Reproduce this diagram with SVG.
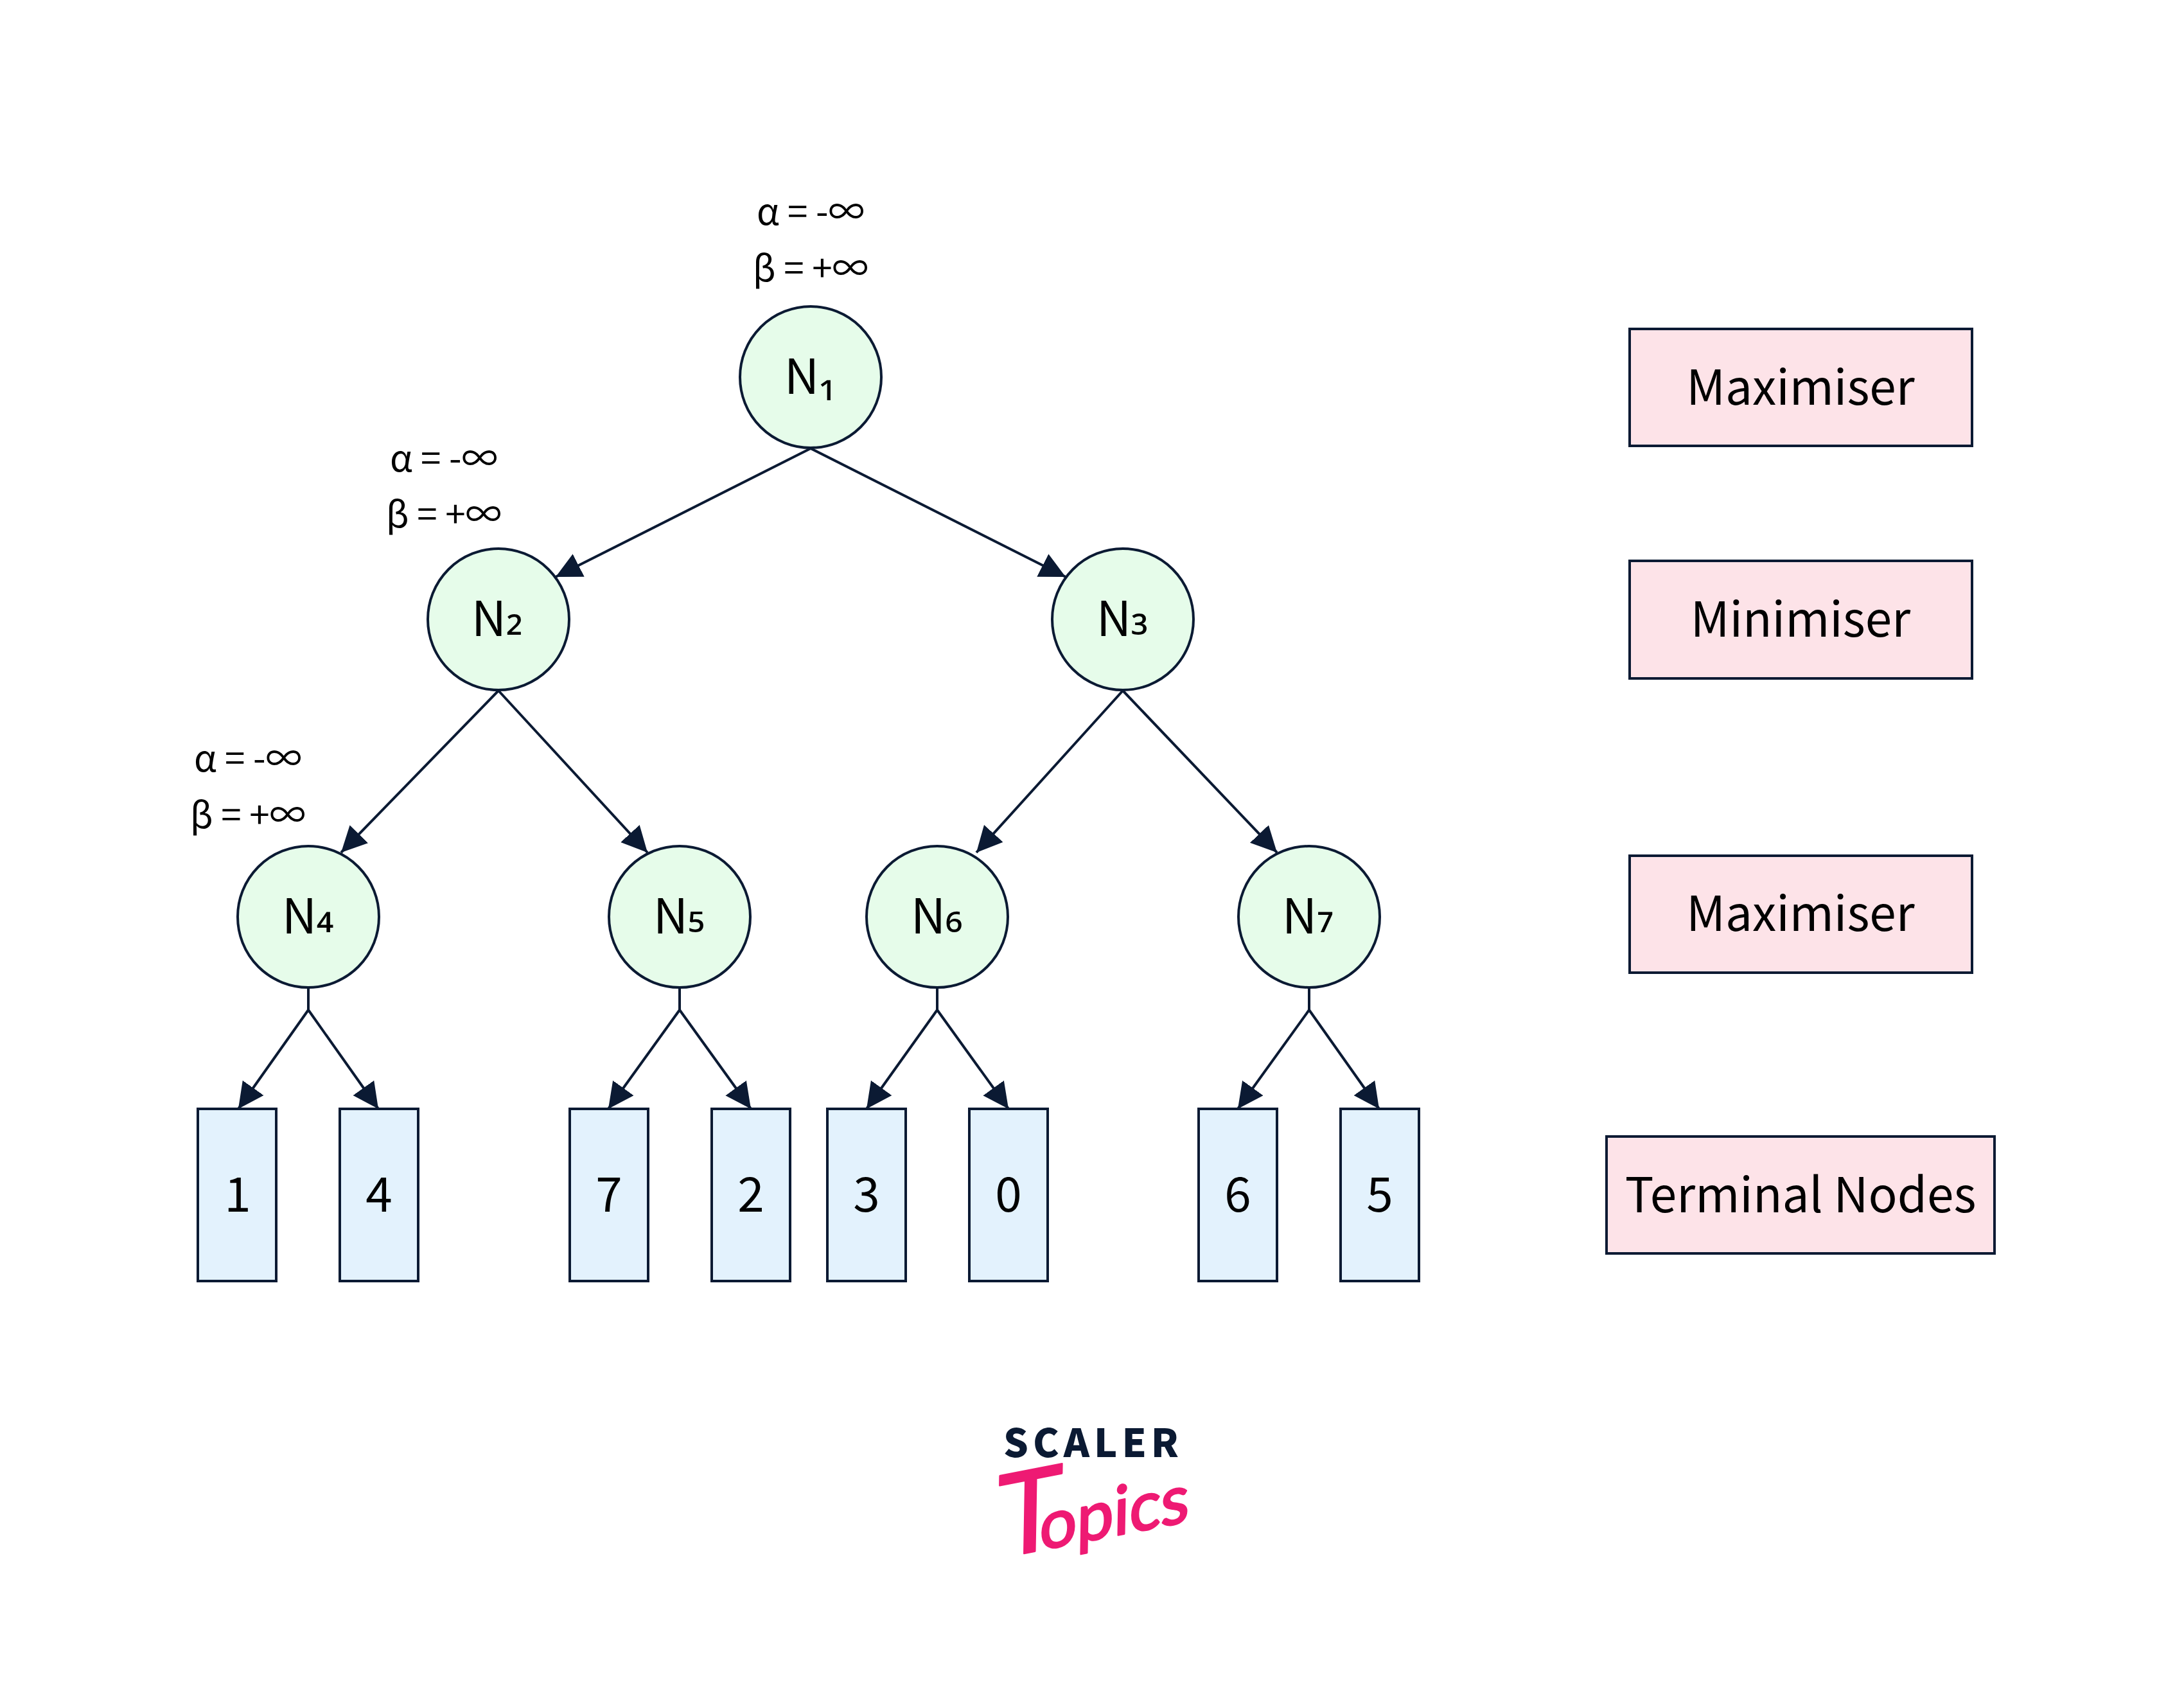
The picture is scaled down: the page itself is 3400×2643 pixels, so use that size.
<svg xmlns="http://www.w3.org/2000/svg" width="3400" height="2643" viewBox="0 0 3400 2643">
<style>
text{font-family:"Noto Sans CJK JP","Noto Sans",sans-serif;fill:#000;text-anchor:middle}
.n{fill:#e6fcea;stroke:#0b1a33;stroke-width:4}
.t{fill:#e3f2fd;stroke:#0b1a33;stroke-width:4}
.k{fill:#fde3e8;stroke:#0b1a33;stroke-width:4}
.l{font-size:74.700px}
.a{font-size:56.500px}
.c{fill:none;stroke:#0b1a33;stroke-width:4;marker-end:url(#arr)}
.s{fill:none;stroke:#0b1a33;stroke-width:4}
</style>
<defs><marker id="arr" markerUnits="userSpaceOnUse" markerWidth="42" markerHeight="42" refX="40" refY="20" orient="auto"><path d="M0 0L40 20L0 40Z" fill="#0b1a33"/></marker></defs>
<rect width="3400" height="2643" fill="#fff"/>
<g id="connectors">
<path class="c" d="M1262 698L865 898"/>
<path class="c" d="M1262 698L1659 898"/>
<path class="c" d="M776 1075L531 1327"/>
<path class="c" d="M776 1075L1008 1327"/>
<path class="c" d="M1748 1075L1520 1327"/>
<path class="c" d="M1748 1075L1988 1327"/>
<path class="s" d="M480 1538V1572M1058 1538V1572M1459 1538V1572M2038 1538V1572"/>
<path class="c" d="M480 1572L371 1726"/>
<path class="c" d="M480 1572L589 1726"/>
<path class="c" d="M1058 1572L947 1726"/>
<path class="c" d="M1058 1572L1169 1726"/>
<path class="c" d="M1459 1572L1349 1726"/>
<path class="c" d="M1459 1572L1570 1726"/>
<path class="c" d="M2038 1572L1927 1726"/>
<path class="c" d="M2038 1572L2147 1726"/>
</g>
<g id="labels-n1"><text class="a" x="1262" y="350">α = -∞</text><text class="a" x="1262" y="438">β = +∞</text></g>
<g id="labels-n2"><text class="a" x="691" y="734">α = -∞</text><text class="a" x="691" y="821">β = +∞</text></g>
<g id="labels-n4"><text class="a" x="386" y="1201">α = -∞</text><text class="a" x="386" y="1289">β = +∞</text></g>
<g id="n1"><circle class="n" cx="1262" cy="587" r="110"/><text class="l" x="1261" y="613">N₁</text></g>
<g id="n2"><circle class="n" cx="776" cy="964" r="110"/><text class="l" x="774" y="990">N<tspan dy="-12">₂</tspan></text></g>
<g id="n3"><circle class="n" cx="1748" cy="964" r="110"/><text class="l" x="1747" y="990">N<tspan dy="-12">₃</tspan></text></g>
<g id="n4"><circle class="n" cx="480" cy="1427" r="110"/><text class="l" x="479" y="1453">N<tspan dy="-12">₄</tspan></text></g>
<g id="n5"><circle class="n" cx="1058" cy="1427" r="110"/><text class="l" x="1057" y="1453">N<tspan dy="-12">₅</tspan></text></g>
<g id="n6"><circle class="n" cx="1459" cy="1427" r="110"/><text class="l" x="1458" y="1453">N<tspan dy="-12">₆</tspan></text></g>
<g id="n7"><circle class="n" cx="2038" cy="1427" r="110"/><text class="l" x="2036" y="1453">N<tspan dy="-12">₇</tspan></text></g>
<g id="t1"><rect class="t" x="308" y="1726" width="122" height="268"/><text class="l" x="370" y="1886">1</text></g>
<g id="t2"><rect class="t" x="529" y="1726" width="122" height="268"/><text class="l" x="590" y="1886">4</text></g>
<g id="t3"><rect class="t" x="887" y="1726" width="122" height="268"/><text class="l" x="948" y="1886">7</text></g>
<g id="t4"><rect class="t" x="1108" y="1726" width="122" height="268"/><text class="l" x="1169" y="1886">2</text></g>
<g id="t5"><rect class="t" x="1288" y="1726" width="122" height="268"/><text class="l" x="1349" y="1886">3</text></g>
<g id="t6"><rect class="t" x="1509" y="1726" width="122" height="268"/><text class="l" x="1570" y="1886">0</text></g>
<g id="t7"><rect class="t" x="1866" y="1726" width="122" height="268"/><text class="l" x="1927" y="1886">6</text></g>
<g id="t8"><rect class="t" x="2087" y="1726" width="122" height="268"/><text class="l" x="2148" y="1886">5</text></g>
<g id="k1"><rect class="k" x="2537" y="512" width="533" height="182"/><text class="l" x="2803" y="630">Maximiser</text></g>
<g id="k2"><rect class="k" x="2537" y="873" width="533" height="183"/><text class="l" x="2803" y="991">Minimiser</text></g>
<g id="k3"><rect class="k" x="2537" y="1332" width="533" height="182"/><text class="l" x="2803" y="1449">Maximiser</text></g>
<g id="k4"><rect class="k" x="2501" y="1769" width="604" height="182"/><text class="l" x="2803" y="1887">Terminal Nodes</text></g>
<g id="logo">
<text x="1702" y="2268" font-size="61" font-weight="900" letter-spacing="7" style="fill:#0b1a33">SCALER</text>
<text transform="translate(1552 2426) rotate(-11) skewX(-12)" style="fill:#ee1a73;stroke:#ee1a73;stroke-width:3;stroke-linejoin:round;font-family:Lato,sans-serif;text-anchor:start"><tspan font-size="175">T</tspan><tspan font-size="104" dx="-36">opics</tspan></text>
</g>
</svg>
